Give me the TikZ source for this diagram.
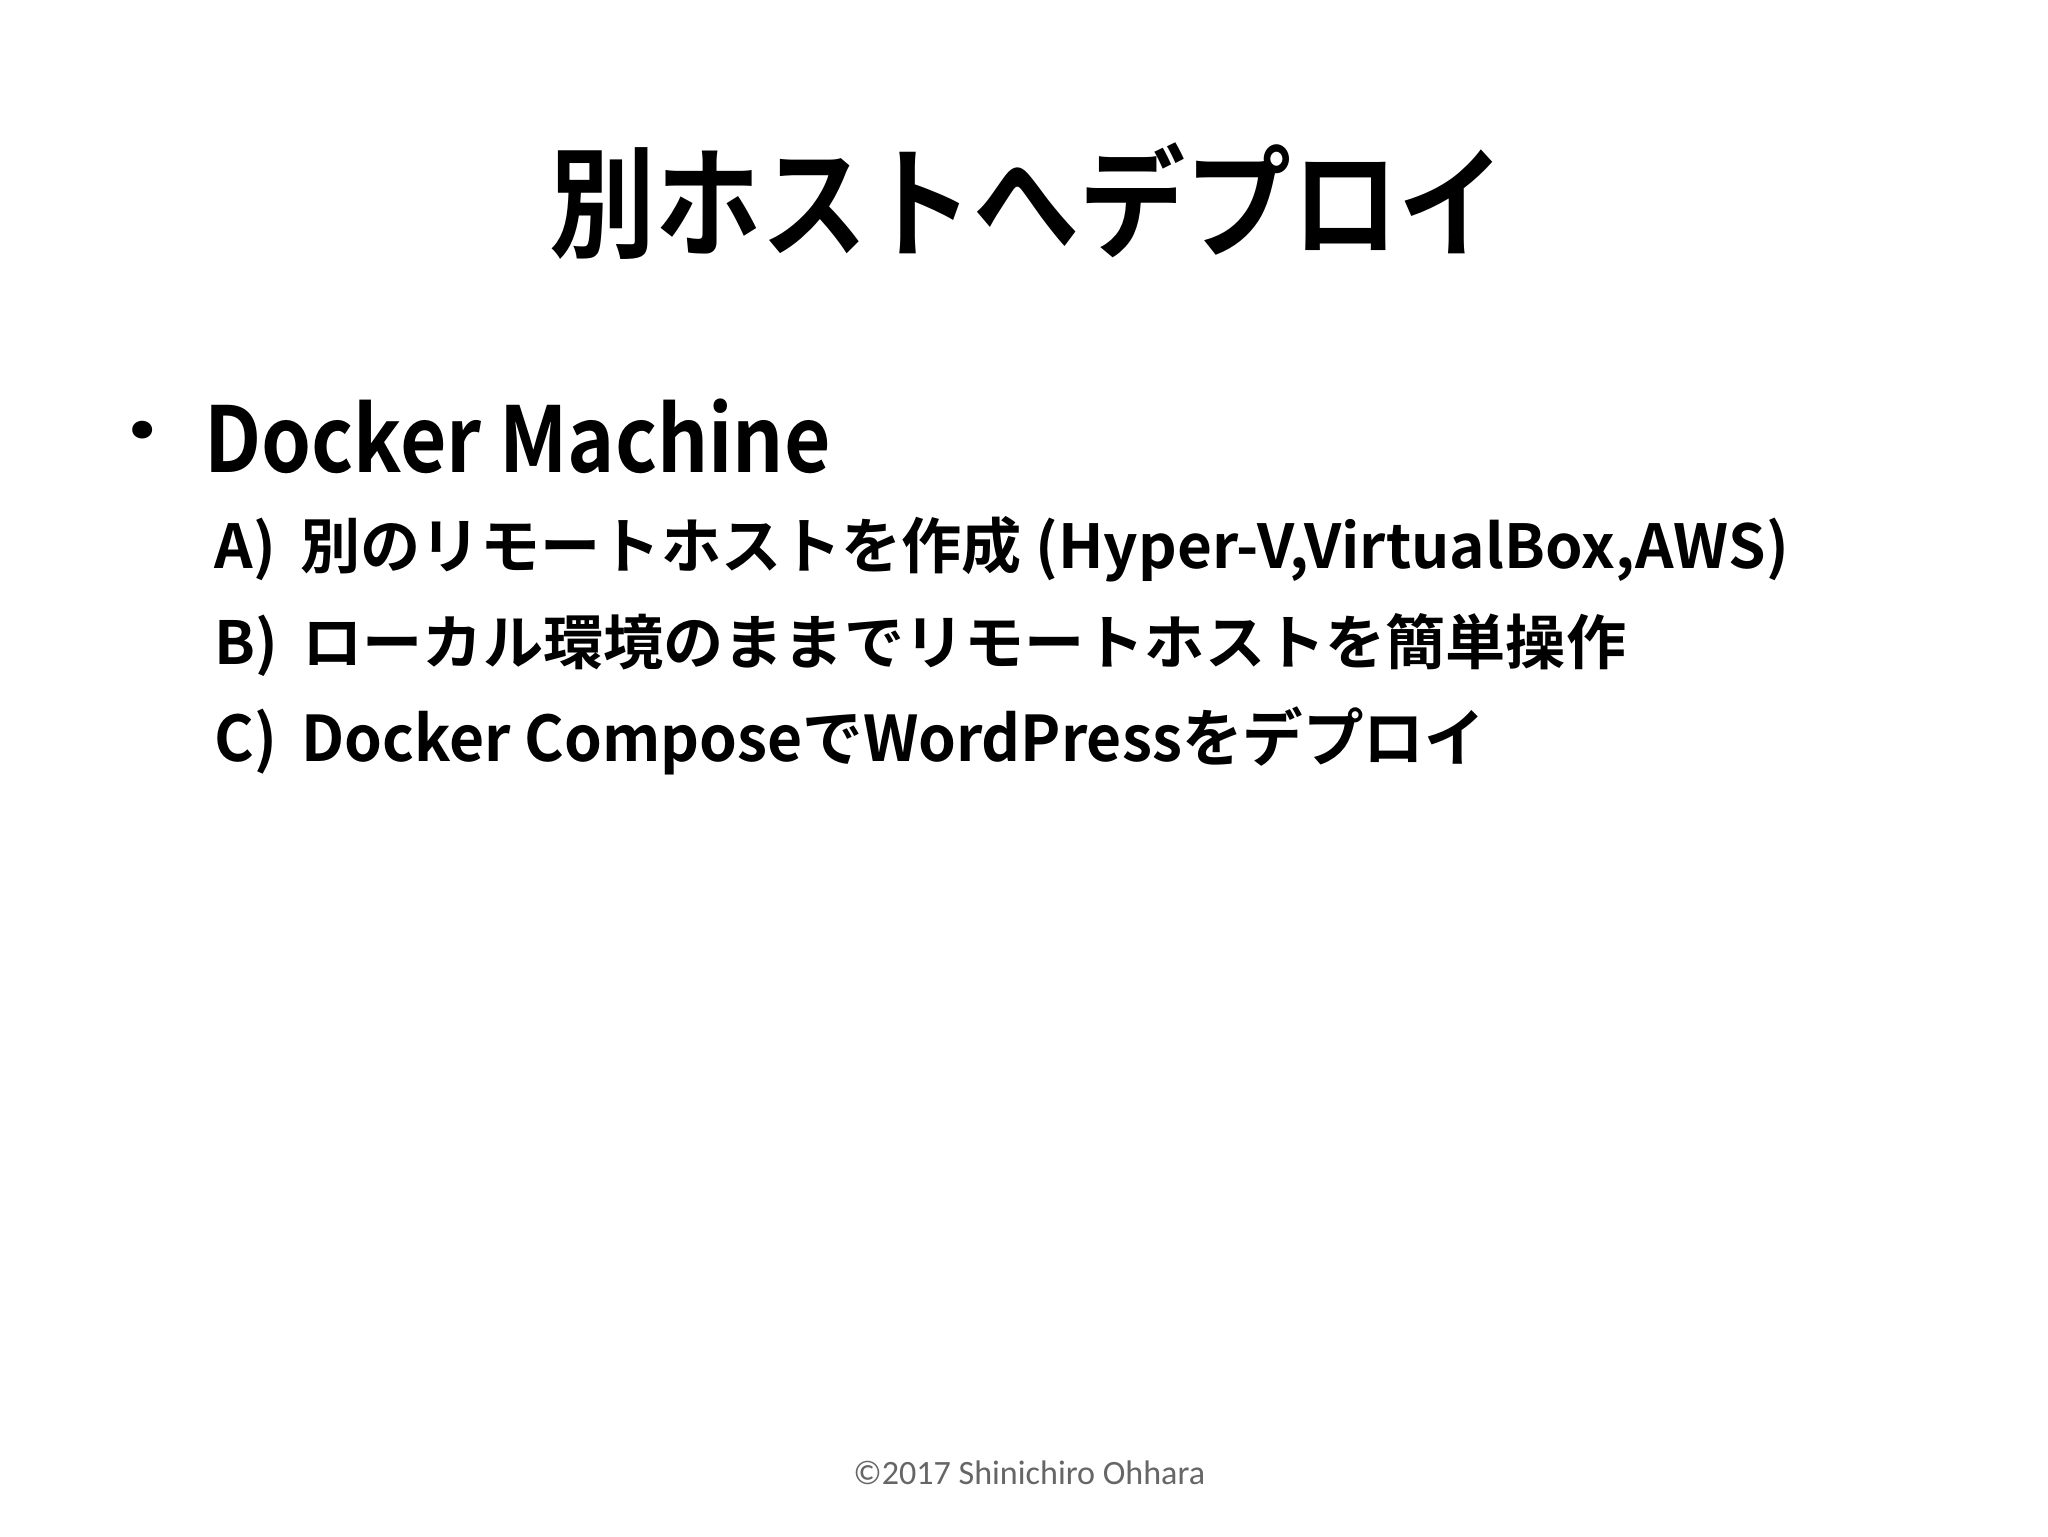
\documentclass[tikz,border=0pt]{standalone}
\usepackage{fontspec}
\usepackage{graphicx}
\newfontfamily\jp{Noto Sans CJK JP Bold}
\newfontfamily\foot{Carlito}
\tikzset{txt/.style={inner sep=0pt, anchor=north west}}
\begin{document}
\begin{tikzpicture}
\fill[white] (0,0) rectangle (15.6,11.7);
\node[txt] (title) at (4.18,11.7-1.08) {\resizebox*{7.27cm}{0.89cm}{\jp 別ホストへデプロイ}};
\node[txt] (bullet) at (0.98,11.7-3.20) {\resizebox*{0.2cm}{0.2cm}{\jp •}};
\node[txt] (dm) at (1.55,11.7-3.03) {\resizebox*{4.77cm}{0.57cm}{\jp Docker Machine}};
\node[txt] (a) at (1.63,11.7-3.93) {\resizebox*{11.99cm}{0.50cm}{\jp A)\hspace{0.4em}別のリモートホストを作成 (Hyper-V,VirtualBox,AWS)}};
\node[txt] (b) at (1.63,11.7-4.67) {\resizebox*{10.75cm}{0.48cm}{\jp B)\hspace{0.4em}ローカル環境のままでリモートホストを簡単操作}};
\node[txt] (c) at (1.63,11.7-5.38) {\resizebox*{9.67cm}{0.52cm}{\jp C)\hspace{0.4em}Docker ComposeでWordPressをデプロイ}};
\node[inner sep=0pt, text=black!60] (f) at (7.84,11.7-11.22) {\resizebox{2.68cm}{!}{\foot ©2017 Shinichiro Ohhara}};
\end{tikzpicture}
\end{document}
